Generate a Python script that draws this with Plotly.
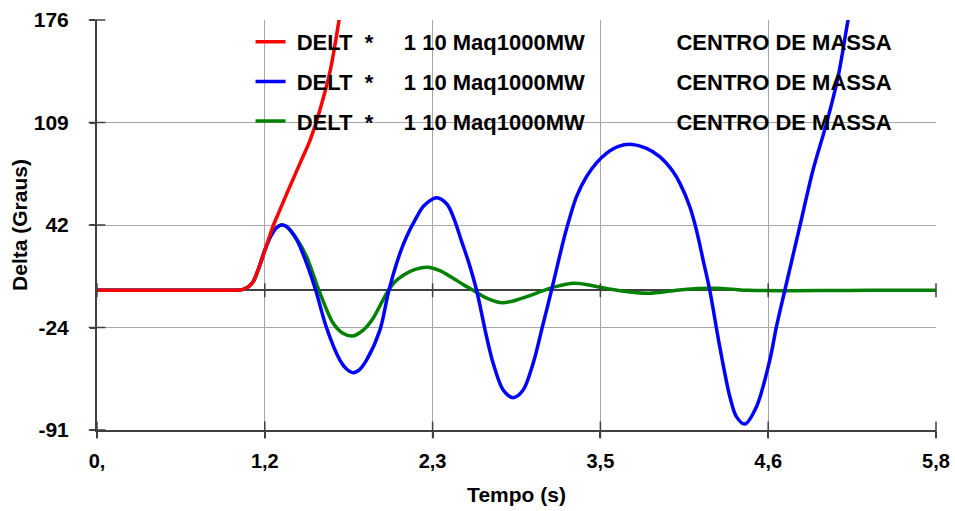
import plotly.graph_objects as go

# Rotor angle of the 1000 MW machine relative to the centre of mass
time_red = [0, 0.5, 0.9, 0.96, 1.011, 1.05, 1.08, 1.126, 1.16, 1.196, 1.22, 1.265,
            1.31, 1.40, 1.472, 1.507, 1.54, 1.61, 1.67, 1.72]
delta_red = [0, 0, 0, 0, 0.6, 2.5, 5.6, 16.5, 26, 36, 42.5, 52.5,
             62.5, 82, 97.5, 107, 117, 142, 174, 205]

time_blue = [0, 0.5, 0.9, 0.96, 1.011, 1.05, 1.08, 1.126, 1.16, 1.2, 1.245, 1.276,
             1.31, 1.38, 1.449, 1.512, 1.587, 1.679, 1.725, 1.771, 1.817, 1.864,
             1.956, 2.018, 2.094, 2.14, 2.2, 2.26, 2.348, 2.42, 2.47, 2.52,
             2.57, 2.624, 2.693, 2.739, 2.808, 2.877, 2.946, 3.015, 3.085, 3.142,
             3.2, 3.246, 3.315, 3.384, 3.453, 3.522, 3.6, 3.695, 3.799, 3.89,
             3.983, 4.03, 4.098, 4.144, 4.19, 4.236, 4.305, 4.375, 4.42, 4.478,
             4.559, 4.651, 4.697, 4.755, 4.858, 4.95, 5.043, 5.123, 5.192, 5.25]
delta_blue = [0, 0, 0, 0, 0.6, 2.5, 5.6, 16.5, 26, 35, 41, 42.5,
              41.5, 33, 17.5, 0, -24.5, -45.5, -51.3, -53.7, -51.5, -45.4,
              -25.9, 0, 24, 34.9, 46, 55, 60.3, 56, 46, 32,
              18, 0, -30.2, -47.6, -65, -70, -65, -47.6, -21.5, 0,
              23, 40, 61, 74, 83, 89.2, 93.5, 95, 92.4, 87,
              77.2, 69.6, 54.4, 39.2, 19.7, 0, -36.7, -69.3, -82.3, -87.1,
              -75.8, -45.4, -23.7, 0, 41.4, 78.3, 108.7, 139, 176, 205]

time_green = [0, 0.5, 0.9, 0.96, 1.011, 1.05, 1.08, 1.126, 1.16, 1.2, 1.245, 1.276,
              1.31, 1.38, 1.449, 1.534, 1.633, 1.70, 1.767, 1.84, 1.91, 1.97,
              2.015, 2.06, 2.12, 2.2, 2.285, 2.37, 2.462, 2.53, 2.6, 2.69,
              2.785, 2.87, 2.97, 3.04, 3.108, 3.2, 3.292, 3.38, 3.476, 3.63,
              3.8, 3.9, 4.006, 4.15, 4.282, 4.4, 4.5, 4.8, 5.2, 5.5, 5.8]
delta_green = [0, 0, 0, 0, 0.6, 2.5, 5.6, 16.5, 26, 35, 41, 42.5,
               41.5, 33.5, 21.9, 0, -21.5, -28, -29.8, -26, -18, -7.5,
               0, 5.5, 10, 13.6, 15, 12.8, 7.8, 3.8, 0, -5,
               -8, -7.2, -4.2, -1.8, 0.6, 3, 4.5, 3.8, 2, -0.5,
               -2, -1.3, 0, 1.1, 1.3, 0.6, 0, -0.3, -0.1, 0, 0]

# Axis ticks
x_tickvals = [0, 1.16, 2.32, 3.48, 4.64, 5.8]
x_ticktext = ["0,", "1,2", "2,3", "3,5", "4,6", "5,8"]
y_tickvals = [-91, -24.25, 42.5, 109.25, 176]
y_ticktext = ["-91", "-24", "42", "109", "176"]

NB = "\u00a0"
label = NB + "DELT" + NB * 2 + "*" + NB * 5 + "1 10 Maq1000MW" + NB * 15 + "CENTRO DE MASSA"

FONT = "Arial, Liberation Sans, sans-serif"
AXIS_DARK = "#404040"
GRID = "#a6a6a6"

fig = go.Figure()

series = [
    (time_green, delta_green, "#008000", 3, "g"),
    (time_blue, delta_blue, "#0000ff", 2, "b"),
    (time_red, delta_red, "#ff0000", 1, "r"),
]
for t, d, color, rank, grp in series:
    fig.add_trace(go.Scatter(
        x=t, y=d, mode="lines", name=label,
        line=dict(color=color, width=3.5, shape="spline", smoothing=0.9),
        legendrank=rank, legendgroup=grp, hoverinfo="skip",
    ))

# Cross-shaped tick marks on the axes and on the zero line
tick_style = dict(color=AXIS_DARK, width=1.5)
fig.add_trace(go.Scatter(
    x=x_tickvals, y=[0] * len(x_tickvals), mode="markers", showlegend=False,
    marker=dict(symbol="line-ns", size=10, line=tick_style), cliponaxis=False,
    hoverinfo="skip"))
fig.add_trace(go.Scatter(
    x=x_tickvals, y=[y_tickvals[0]] * len(x_tickvals), mode="markers", showlegend=False,
    marker=dict(symbol="line-ns", size=12, line=tick_style), cliponaxis=False,
    hoverinfo="skip"))
fig.add_trace(go.Scatter(
    x=[0] * len(y_tickvals), y=y_tickvals, mode="markers", showlegend=False,
    marker=dict(symbol="line-ew", size=12, line=tick_style), cliponaxis=False,
    hoverinfo="skip"))

fig.update_layout(
    width=955, height=511, autosize=False,
    margin=dict(l=97, r=19, t=20, b=81, autoexpand=False),
    paper_bgcolor="white", plot_bgcolor="white",
    font=dict(family=FONT, size=20, color="black", weight="bold"),
    legend=dict(
        x=0.183, y=0.9976, xanchor="left", yanchor="top",
        bgcolor="rgba(0,0,0,0)", borderwidth=0,
        font=dict(family=FONT, size=22, color="black", weight="bold"),
        tracegroupgap=8, itemclick=False, itemdoubleclick=False,
    ),
    xaxis=dict(
        range=[0, 5.8], tickvals=x_tickvals, ticktext=x_ticktext,
        showgrid=True, gridcolor=GRID, gridwidth=1,
        showline=True, linecolor=AXIS_DARK, linewidth=2,
        ticks="outside", ticklen=6, tickwidth=1.5, tickcolor=AXIS_DARK,
        ticklabelstandoff=6, zeroline=False, automargin=False,
        tickfont=dict(family=FONT, size=20, weight="bold"),
        title=dict(text="Tempo (s)", standoff=16,
                   font=dict(family=FONT, size=21, weight="bold")),
    ),
    yaxis=dict(
        range=[-91, 176], tickvals=y_tickvals, ticktext=y_ticktext,
        showgrid=True, gridcolor=GRID, gridwidth=1,
        showline=True, linecolor=AXIS_DARK, linewidth=2,
        ticks="outside", ticklen=5, tickwidth=1.5, tickcolor=AXIS_DARK,
        ticklabelstandoff=17, automargin=False,
        zeroline=True, zerolinecolor=AXIS_DARK, zerolinewidth=1.5,
        tickfont=dict(family=FONT, size=21, weight="bold"),
        title=dict(text="Delta (Graus)", standoff=0,
                   font=dict(family=FONT, size=21, weight="bold")),
    ),
)

fig.write_html("out.html")
